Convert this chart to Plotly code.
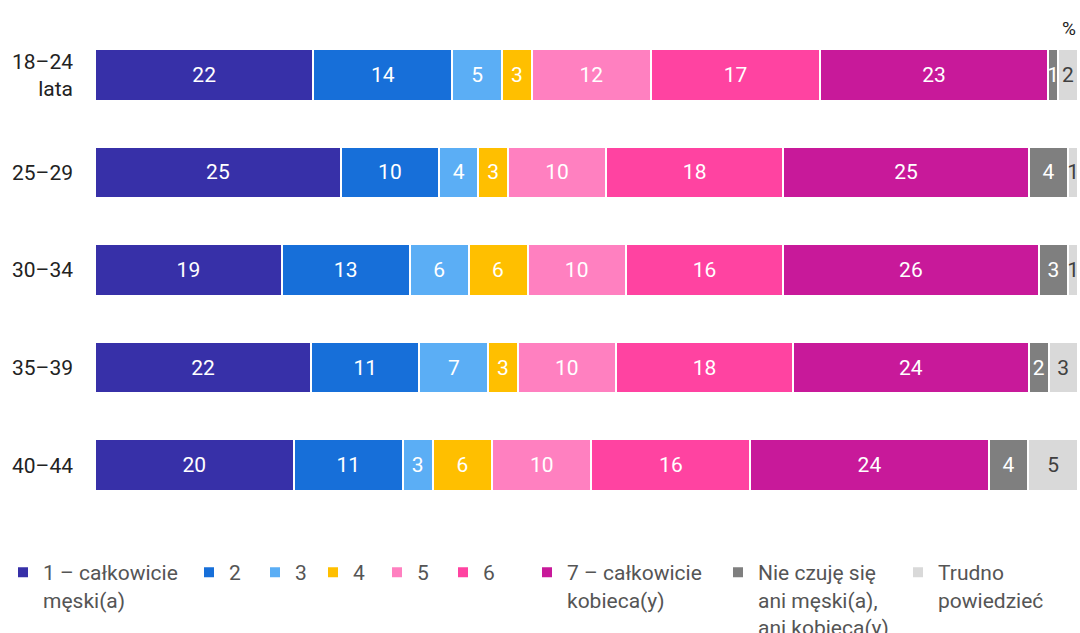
import plotly.graph_objects as go

grupy = ["18–24<br>lata", "25–29", "30–34", "35–39", "40–44"]

serie = [
    "1 – całkowicie<br>męski(a)", "2", "3", "4", "5", "6",
    "7 – całkowicie<br>kobieca(y)",
    "Nie czuję się<br>ani męski(a),<br>ani kobieca(y)",
    "Trudno<br>powiedzieć",
]

w1 = [22, 25, 19, 22, 20]
w2 = [14, 10, 13, 11, 11]
w3 = [5, 4, 6, 7, 3]
w4 = [3, 3, 6, 3, 6]
w5 = [12, 10, 10, 10, 10]
w6 = [17, 18, 16, 18, 16]
w7 = [23, 25, 26, 24, 24]
nie_czuje = [1, 4, 3, 2, 4]
trudno = [2, 1, 1, 3, 5]

wartosci = [w1, w2, w3, w4, w5, w6, w7, nie_czuje, trudno]

kolory = ["#3730a8", "#176fd9", "#5baef5", "#ffbf00", "#ff80c0",
          "#ff43a1", "#c8199a", "#7f7f7f", "#d9d9d9"]
kolory_tekstu = ["white"] * 8 + ["#404040"]

# początek tekstu legendy (px od lewej)
legenda_x = [43, 229, 295, 353, 417, 483, 567, 758, 938]

fig = go.Figure()

for i, (nazwa, v) in enumerate(zip(serie, wartosci)):
    leg = "legend" if i == 0 else f"legend{i + 1}"
    fig.add_trace(go.Bar(
        y=grupy,
        x=v,
        name=nazwa,
        orientation="h",
        marker=dict(color=kolory[i], line=dict(color="white", width=2)),
        text=[str(x) for x in v],
        textposition="inside",
        insidetextanchor="middle",
        constraintext="none",
        textangle=0,
        textfont=dict(color=kolory_tekstu[i], size=21, family="Roboto"),
        hoverinfo="skip",
        legend=leg,
    ))

layout_legend = {}
for i, px_x in enumerate(legenda_x):
    key = "legend" if i == 0 else f"legend{i + 1}"
    layout_legend[key] = dict(
        xref="container", yref="container",
        x=max(px_x - 40, 0) / 1080, y=1 - 552 / 633,
        xanchor="left", yanchor="top",
        valign="top",
        bgcolor="rgba(0,0,0,0)",
        font=dict(size=21, color="#555555", family="Roboto"),
        itemclick=False, itemdoubleclick=False,
    )

fig.update_layout(
    width=1080, height=633,
    barmode="stack",
    barnorm="percent",
    bargap=0.47,
    plot_bgcolor="white",
    paper_bgcolor="white",
    font=dict(family="Roboto", size=21, color="#222222"),
    margin=dict(l=95, r=2, t=26, b=119, autoexpand=False),
    xaxis=dict(visible=False, range=[0, 100], fixedrange=True),
    yaxis=dict(
        autorange="reversed",
        showgrid=False, zeroline=False, showline=False,
        ticks="", ticklabelstandoff=21,
        tickfont=dict(size=21, color="#222222"),
        fixedrange=True,
    ),
    showlegend=True,
    **layout_legend,
)

fig.add_annotation(
    text="%", xref="paper", yref="paper",
    x=1, y=1, xanchor="right", yanchor="middle",
    yshift=-2, showarrow=False,
    font=dict(size=19, color="#222222"),
)

fig.write_html(
    "out.html",
    config={"displayModeBar": False},
    post_script="document.body.style.margin = '0';",
)
